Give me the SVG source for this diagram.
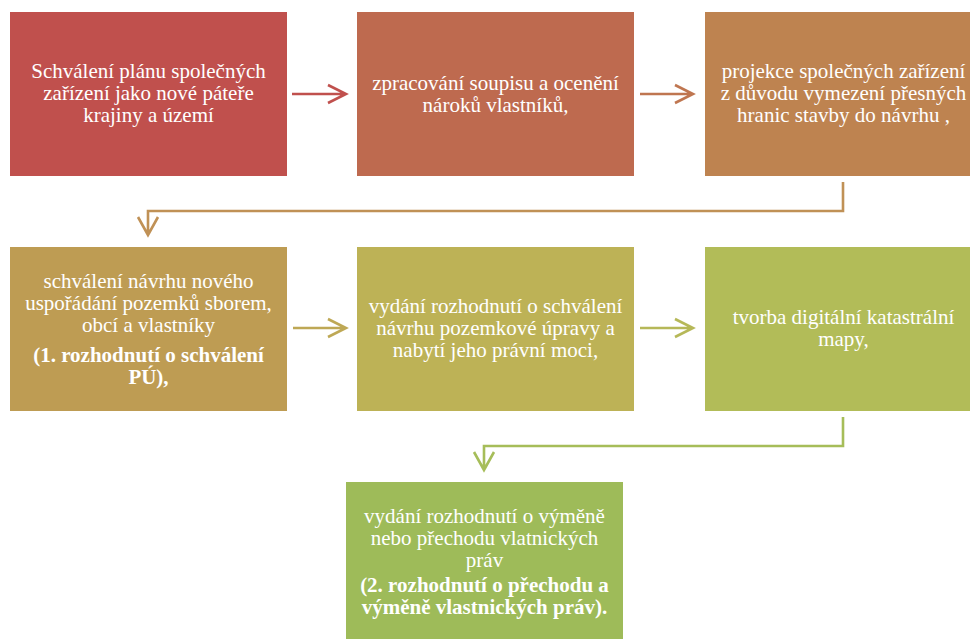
<svg xmlns="http://www.w3.org/2000/svg" width="970" height="639" viewBox="0 0 970 639">
<style>
text{font-family:"Liberation Serif","Times New Roman",serif;font-size:21px;fill:#FFFFFF;text-anchor:middle}
.b{font-weight:bold}
.c{fill:none;stroke-width:2.6;stroke-linecap:butt;stroke-linejoin:miter}
</style>
<rect width="970" height="639" fill="#FFFFFF"/>
<g id="n1"><rect x="10" y="12" width="277" height="164" fill="#C0504D"/>
<text x="148.5" y="78">Schválení plánu společných</text>
<text x="148.5" y="100">zařízení jako nové páteře</text>
<text x="148.5" y="122">krajiny a území</text></g>
<g id="n2"><rect x="357" y="12" width="277" height="164" fill="#BE6A4F"/>
<text x="495.5" y="90">zpracování soupisu a ocenění</text>
<text x="495.5" y="112">nároků vlastníků,</text></g>
<g id="n3"><rect x="705" y="12" width="277" height="164" fill="#BE8350"/>
<text x="843.5" y="78">projekce společných zařízení</text>
<text x="843.5" y="100">z důvodu vymezení přesných</text>
<text x="843.5" y="122">hranic stavby do návrhu ,</text></g>
<g id="n4"><rect x="10" y="247" width="277" height="164" fill="#BE9C53"/>
<text x="148.5" y="288">schválení návrhu nového</text>
<text x="148.5" y="310">uspořádání pozemků sborem,</text>
<text x="148.5" y="332">obcí a vlastníky</text>
<text class="b" x="148.5" y="362">(1. rozhodnutí o schválení</text>
<text class="b" x="148.5" y="384">PÚ),</text></g>
<g id="n5"><rect x="357" y="247" width="277" height="164" fill="#BDB256"/>
<text x="495.5" y="313">vydání rozhodnutí o schválení</text>
<text x="495.5" y="335">návrhu pozemkové úpravy a</text>
<text x="495.5" y="357">nabytí jeho právní moci,</text></g>
<g id="n6"><rect x="705" y="247" width="277" height="164" fill="#B2BC58"/>
<text x="843.5" y="324">tvorba digitální katastrální</text>
<text x="843.5" y="346">mapy,</text></g>
<g id="n7"><rect x="346" y="482" width="277" height="164" fill="#9EBB59"/>
<text x="484.5" y="523">vydání rozhodnutí o výměně</text>
<text x="484.5" y="545">nebo přechodu vlatnických</text>
<text x="484.5" y="567">práv</text>
<text class="b" x="484.5" y="592">(2. rozhodnutí o přechodu a</text>
<text class="b" x="484.5" y="614">výměně vlastnických práv).</text></g>
<g id="connectors">
<path class="c" stroke="#C0504D" d="M292 94H346M328 85L346 94L328 103"/>
<path class="c" stroke="#BF7650" d="M640 94H693M675 85L693 94L675 103"/>
<path class="c" stroke="#C09156" d="M843 182V211H148V235M138 217L148 235L158 217"/>
<path class="c" stroke="#BEA855" d="M293 328H346M328 319L346 328L328 337"/>
<path class="c" stroke="#B6B858" d="M640 328H693M675 319L693 328L675 337"/>
<path class="c" stroke="#A6BD59" d="M843 417V446H484V470M474 452L484 470L494 452"/>
</g>
</svg>
